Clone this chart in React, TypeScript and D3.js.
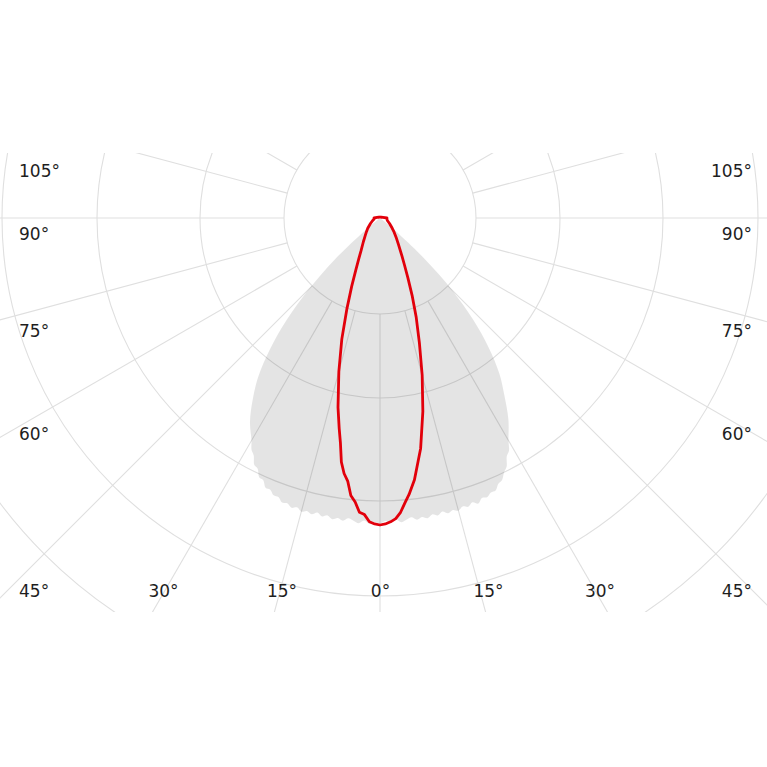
import React from "react";
import * as d3 from "d3";

// ---- data (intensity values in chart units; polar angle 0° = down, + = right) ----
const redAngles = [
  -180, -150, -120, -100, -90, -80, -70, -60, -50, -45, -40, -35, -30, -27.5, -25, -22.5, -20, -17.5, -15, -12.5,
  -11, -10, -9, -8, -7, -6, -5, -4, -3, -2, -1, 0, 1, 2, 3, 4, 5, 6, 7.5, 10, 12.5, 15, 17.5, 20, 22.5, 25, 27.5,
  30, 35, 40, 45, 50, 60, 70, 80, 90, 100, 120, 150,
];
const redValues = [
  1, 1, 1.5, 3, 6, 6, 8, 11, 16, 19, 23, 29, 38, 46, 57, 74, 97, 127, 159, 194,
  214, 228, 247, 258, 265, 279, 285, 295, 297, 304, 306, 307, 306, 304, 301, 295, 286, 278, 264, 234, 198, 163, 131, 106, 84, 66, 53,
  44, 32, 25, 20, 16, 11, 8, 7, 7, 3, 1.5, 1,
];

const greyAngles = [
  -55, -52.5, -50, -47.5, -45, -42.5, -40, -37.5, -35, -32.5,
  -30, -29, -28, -27, -26, -25, -24, -23, -22, -21, -20, -19, -18, -17, -16, -15, -14, -13, -12, -11,
  -10, -9, -8, -7, -6, -5, -4, -3, -2, -1, 0, 1, 2, 3, 4, 5, 6, 7, 8, 9,
  10, 11, 12, 13, 14, 15, 16, 17, 18, 19, 20, 21, 22, 23, 24, 25, 26, 27, 28, 29,
  30, 32.5, 35, 37.5, 40, 42.5, 45, 47.5, 50, 52.5, 55,
];
const greyValues = [
  0, 4, 22, 62, 100, 138, 171, 200, 222, 242,
  257, 265, 269, 277, 279, 286, 287, 293, 293, 297, 297, 301, 300, 303, 301, 304, 302, 304, 301, 304,
  302, 305, 303, 305, 302, 304, 306, 303, 306, 304, 306, 303, 305, 302, 305, 303, 301, 304, 302, 304,
  301, 303, 300, 303, 301, 303, 300, 302, 299, 302, 298, 299, 296, 296, 291, 289, 283, 279, 270, 266,
  257, 239, 217, 196, 169, 138, 102, 60, 20, 3, 0,
];

const ringValues = [96, 180, 283, 378, 475];
const spokeAngles = [-165, -150, -135, -120, -105, -90, -75, -60, -45, -30, -15, 0, 15, 30, 45, 60, 75, 90, 105, 120, 135, 150, 165, 180];

const leftLabels = ["105°", "90°", "75°", "60°", "45°"];
const rightLabels = ["105°", "90°", "75°", "60°", "45°"];
const bottomLabels = ["30°", "15°", "0°", "15°", "30°"];

// ---- layout ----
const W = 767;
const H = 767;
const CX = 380;
const CY = 218;
const sideBaselines = [177, 240, 337, 440, 597];
const bottomXs = [163.5, 282, 380.5, 488.5, 600];
const bottomBaseline = 597;

const toRad = (deg: number) => ((180 - deg) * Math.PI) / 180;

export default function App() {
  const r = d3.scaleLinear().domain([0, 500]).range([0, 500]);

  const redPts: [number, number][] = redAngles.map((a, i) => [a, redValues[i]]);
  const greyPts: [number, number][] = greyAngles.map((a, i) => [a, greyValues[i]]);

  const redLine = d3
    .lineRadial<[number, number]>()
    .angle((d) => toRad(d[0]))
    .radius((d) => r(d[1]))
    .curve(d3.curveLinearClosed);

  const greyLine = d3
    .lineRadial<[number, number]>()
    .angle((d) => toRad(d[0]))
    .radius((d) => r(d[1]))
    .curve(d3.curveCatmullRom.alpha(0.5));

  const inner = r(ringValues[0]);
  const outer = 900;
  const gridColor = "#dfdfdf";
  const font = "'DejaVu Sans', Verdana, sans-serif";
  const textColor = "#1e1e1e";

  return (
    <svg
      width={W}
      height={H}
      style={{ position: "absolute", left: 0, top: 0, background: "#fff" }}
    >
      <defs>
        <clipPath id="plotClip">
          <rect x={0} y={153} width={W} height={459} />
        </clipPath>
      </defs>
      <g clipPath="url(#plotClip)">
        <g transform={`translate(${CX},${CY})`}>
          {ringValues.map((v, i) => (
            <circle key={"ring" + i} r={r(v)} fill="none" stroke={gridColor} strokeWidth={1.1} />
          ))}
          {spokeAngles.map((a, i) => {
            const t = toRad(a);
            return (
              <line
                key={"sp" + i}
                x1={inner * Math.sin(t)}
                y1={-inner * Math.cos(t)}
                x2={outer * Math.sin(t)}
                y2={-outer * Math.cos(t)}
                stroke={gridColor}
                strokeWidth={1.1}
              />
            );
          })}
          <path d={(greyLine(greyPts) || "") + "Z"} fill="#000" fillOpacity={0.105} stroke="none" />
          <path
            d={redLine(redPts) || ""}
            fill="none"
            stroke="#e2000b"
            strokeWidth={2.8}
            strokeLinejoin="round"
          />
        </g>
      </g>
      <g fontFamily={font} fontSize={17} fill={textColor}>
        {leftLabels.map((t, i) => (
          <text key={"l" + i} x={19} y={sideBaselines[i]} textAnchor="start">
            {t}
          </text>
        ))}
        {rightLabels.map((t, i) => (
          <text key={"r" + i} x={752} y={sideBaselines[i]} textAnchor="end">
            {t}
          </text>
        ))}
        {bottomLabels.map((t, i) => (
          <text key={"b" + i} x={bottomXs[i]} y={bottomBaseline} textAnchor="middle">
            {t}
          </text>
        ))}
      </g>
    </svg>
  );
}
